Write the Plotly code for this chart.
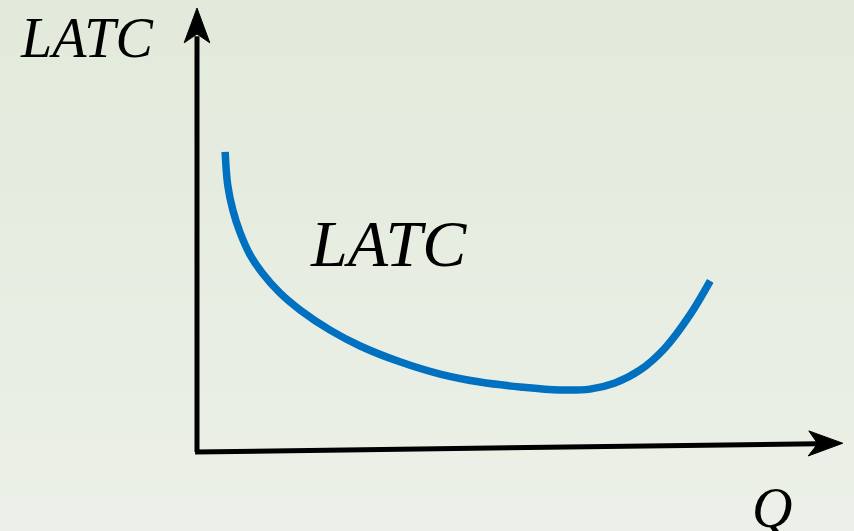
import plotly.graph_objects as go

# Long-run average total cost curve (arbitrary units)
q_values = [0.44, 0.48, 0.56, 0.67, 0.83, 1.02, 1.30, 1.61, 2.08, 2.55, 3.17,
            3.80, 4.42, 5.05, 5.67, 6.14, 6.53, 6.92, 7.31, 7.70, 8.02]
latc_values = [6.82, 6.07, 5.50, 5.00, 4.48, 4.07, 3.61, 3.23, 2.77, 2.41, 2.05,
               1.77, 1.59, 1.48, 1.41, 1.43, 1.57, 1.86, 2.36, 3.11, 3.89]

y_axis_title = "LATC"
x_axis_title = "Q"
curve_label = "LATC"

CURVE = "#0070c0"
TOP_BG = (226, 234, 219)
BOT_BG = (236, 240, 232)

fig = go.Figure()

# soft vertical background gradient
n_bands = 30
for i in range(n_bands):
    t = i / (n_bands - 1)
    c = tuple(round(TOP_BG[k] + (BOT_BG[k] - TOP_BG[k]) * t) for k in range(3))
    fig.add_shape(type="rect", xref="paper", yref="paper", x0=0, x1=1,
                  y0=1 - (i + 1) / n_bands - 0.002, y1=1 - i / n_bands,
                  fillcolor="rgb(%d,%d,%d)" % c, line=dict(width=0), layer="below")

fig.add_trace(go.Scatter(x=q_values, y=latc_values, mode="lines",
                         line=dict(color=CURVE, width=7.5, shape="spline", smoothing=1.0),
                         hoverinfo="skip", showlegend=False))

# axes drawn as arrows
fig.add_shape(type="line", x0=0, y0=0, x1=0, y1=9.45, xref="x", yref="y",
              line=dict(color="black", width=5))
fig.add_shape(type="path", path="M 0 10.09 L -0.2 9.3 L 0 9.5 L 0.2 9.3 Z",
              xref="x", yref="y", fillcolor="black", line=dict(color="black", width=1))
fig.add_shape(type="line", x0=-0.03, y0=0.0, x1=9.7, y1=0.19, xref="x", yref="y",
              line=dict(color="black", width=5))
fig.add_shape(type="path", path="M 10.09 0.2 L 9.56 0.48 L 9.70 0.19 L 9.55 -0.09 Z",
              xref="x", yref="y", fillcolor="black", line=dict(color="black", width=1))

font = dict(family="Liberation Serif, Times New Roman, serif", size=56, color="black")
fig.add_annotation(x=-1.72, y=9.4, text="<i>%s</i>" % y_axis_title, showarrow=False,
                   xref="x", yref="y", font=font)
fig.add_annotation(x=2.99, y=4.75, text="<i>%s</i>" % curve_label, showarrow=False,
                   xref="x", yref="y", font=dict(font, size=66))
fig.add_annotation(x=8.99, y=-1.27, text="<i>%s</i>" % x_axis_title, showarrow=False,
                   xref="x", yref="y", font=font)

fig.update_layout(
    width=854, height=531, margin=dict(l=0, r=0, t=0, b=0),
    paper_bgcolor="rgb(231,237,226)", plot_bgcolor="rgba(0,0,0,0)",
    xaxis=dict(range=[-3.078, 10.266], visible=False, fixedrange=True),
    yaxis=dict(range=[-1.795, 10.273], visible=False, fixedrange=True),
)
fig.write_html("out.html", config={"displayModeBar": False},
               post_script="document.body.style.margin='0';document.body.style.overflow='hidden';")
